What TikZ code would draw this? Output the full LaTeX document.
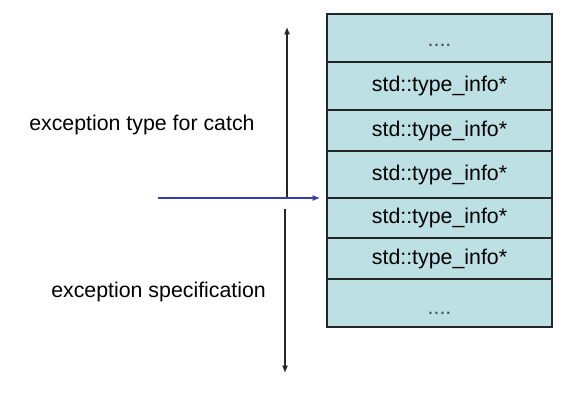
\documentclass[tikz,border=0pt]{standalone}
\usepackage{fontspec}
\setmainfont{Liberation Sans}
\usetikzlibrary{arrows.meta}
\definecolor{cellfill}{RGB}{188,224,228}
\definecolor{ptrblue}{RGB}{60,60,170}
\begin{document}
\begin{tikzpicture}[x=0.75pt,y=-0.75pt,
  cell/.style={draw=black!85,fill=cellfill,line width=0.8pt,minimum width=225*0.75pt,inner sep=0pt,outer sep=0pt,anchor=north west,font=\fontsize{16}{19}\selectfont},
  dots/.style={text=black!70},
  lbl/.style={font=\fontsize{16}{19}\selectfont,anchor=west,inner sep=0pt},
  arr/.style={line width=0.8pt,-{Latex[length=5.5pt,width=4.5pt]}}]
\useasboundingbox (0,0) rectangle (588,414);
\node[cell,dots,minimum height=48*0.75pt] (r1) at (327,14) {\smash{\raisebox{-6pt}{....}}};
\node[cell,minimum height=48*0.75pt] (r2) at (327,62) {std::type\_info*};
\node[cell,minimum height=41*0.75pt] (r3) at (327,110) {std::type\_info*};
\node[cell,minimum height=47*0.75pt] (r4) at (327,151) {std::type\_info*};
\node[cell,minimum height=40*0.75pt] (r5) at (327,198) {std::type\_info*};
\node[cell,minimum height=41*0.75pt] (r6) at (327,238) {std::type\_info*};
\node[cell,dots,minimum height=48*0.75pt] (r7) at (327,279) {\smash{\raisebox{-8.5pt}{....}}};
\node[lbl] (catch) at (29,125) {exception type for catch};
\node[lbl] (spec) at (51,292) {exception specification};
\coordinate (ustart) at (287,197);
\coordinate (uend) at (287,27);
\coordinate (dstart) at (285,209);
\coordinate (dend) at (285,373);
\coordinate (bstart) at (158,198);
\draw[arr,black!85] (ustart) -- (uend);
\draw[arr,black!85] (dstart) -- (dend);
\draw[arr,ptrblue] (bstart) -- ([xshift=-7*0.75pt]r4.south west);
\end{tikzpicture}
\end{document}
